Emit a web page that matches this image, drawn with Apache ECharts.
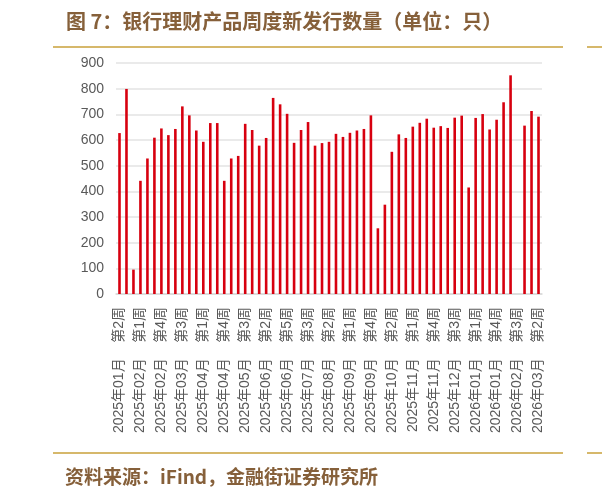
<!DOCTYPE html>
<html>
<head>
<meta charset="utf-8">
<script src="https://cdn.jsdelivr.net/npm/echarts@6/dist/echarts.min.js"></script>
<style>
html,body{margin:0;padding:0;background:#fff;}
#main{width:602px;height:502px;}
</style>
</head>
<body>
<div id="main"></div>
<script>
var titleText = '图 7：银行理财产品周度新发行数量（单位：只）';
var sourceText = '资料来源：iFind，金融街证券研究所';
var yTicks = [0, 900, 100];
var categories = [
'2025年01月第2周','2025年01月第3周','2025年01月第4周','2025年02月第1周','2025年02月第2周',
'2025年02月第3周','2025年02月第4周','2025年03月第1周','2025年03月第2周','2025年03月第3周',
'2025年03月第4周','2025年03月第5周','2025年04月第1周','2025年04月第2周','2025年04月第3周',
'2025年04月第4周','2025年05月第1周','2025年05月第2周','2025年05月第3周','2025年05月第4周',
'2025年06月第1周','2025年06月第2周','2025年06月第3周','2025年06月第4周','2025年06月第5周',
'2025年07月第1周','2025年07月第2周','2025年07月第3周','2025年07月第4周','2025年08月第1周',
'2025年08月第2周','2025年08月第3周','2025年08月第4周','2025年09月第1周','2025年09月第2周',
'2025年09月第3周','2025年09月第4周','2025年09月第5周','2025年10月第1周','2025年10月第2周',
'2025年10月第3周','2025年10月第4周','2025年11月第1周','2025年11月第2周','2025年11月第3周',
'2025年11月第4周','2025年12月第1周','2025年12月第2周','2025年12月第3周','2025年12月第4周',
'2025年12月第5周','2026年01月第1周','2026年01月第2周','2026年01月第3周','2026年01月第4周',
'2026年02月第1周','2026年02月第2周','2026年02月第3周','2026年02月第4周','2026年03月第1周',
'2026年03月第2周'
];
var newProducts = [
627,799,95,441,528,609,645,619,643,731,696,637,593,666,666,441,528,538,
663,639,578,608,764,739,702,589,639,670,578,588,593,624,612,628,637,643,696,256,348,
554,622,608,652,667,683,648,654,647,687,695,415,686,701,641,679,747,852,null,656,713,691
];

var chart = echarts.init(document.getElementById('main'), null, {renderer: 'canvas'});
var brown = '#86603A';
var gold = '#D6B86B';
var labelFont = '"Liberation Sans", Arial, "Noto Sans CJK SC", sans-serif';
var cjkFont = '"Noto Sans CJK SC", "Liberation Sans", sans-serif';

chart.setOption({
  backgroundColor: '#ffffff',
  animation: false,
  grid: {left: 116, right: 60, top: 63, bottom: 208, containLabel: false},
  xAxis: {
    type: 'category',
    data: categories,
    boundaryGap: true,
    axisLine: {show: true, lineStyle: {color: '#D9D9D9', width: 1.5}},
    axisTick: {show: false},
    axisLabel: {
      interval: 2,
      rotate: 90,
      margin: 13,
      color: '#595959',
      fontSize: 14,
      fontFamily: labelFont,
      formatter: function (v) { return v.replace('第', '    第'); }
    },
    splitLine: {show: false}
  },
  yAxis: {
    type: 'value',
    min: yTicks[0],
    max: yTicks[1],
    interval: yTicks[2],
    axisLine: {show: false},
    axisTick: {show: false},
    axisLabel: {color: '#595959', fontSize: 14, margin: 12, fontFamily: labelFont},
    splitLine: {show: true, lineStyle: {color: '#E3E3E3', width: 1.5}}
  },
  series: [{
    type: 'bar',
    data: newProducts,
    barWidth: 2.6,
    itemStyle: {color: '#D7000F'}
  }],
  graphic: [
    {type: 'text', left: 66, top: 11, style: {text: titleText, fill: brown, font: 'bold 20px ' + cjkFont}},
    {type: 'line', shape: {x1: 53, y1: 47, x2: 563, y2: 47}, style: {stroke: gold, lineWidth: 2}},
    {type: 'line', shape: {x1: 587, y1: 47, x2: 602, y2: 47}, style: {stroke: gold, lineWidth: 2}},
    {type: 'line', shape: {x1: 53, y1: 453, x2: 563, y2: 453}, style: {stroke: gold, lineWidth: 2}},
    {type: 'line', shape: {x1: 587, y1: 453, x2: 602, y2: 453}, style: {stroke: gold, lineWidth: 2}},
    {type: 'text', left: 65, top: 467, style: {text: sourceText, fill: brown, font: 'bold 19px ' + cjkFont}}
  ]
});
</script>
</body>
</html>
